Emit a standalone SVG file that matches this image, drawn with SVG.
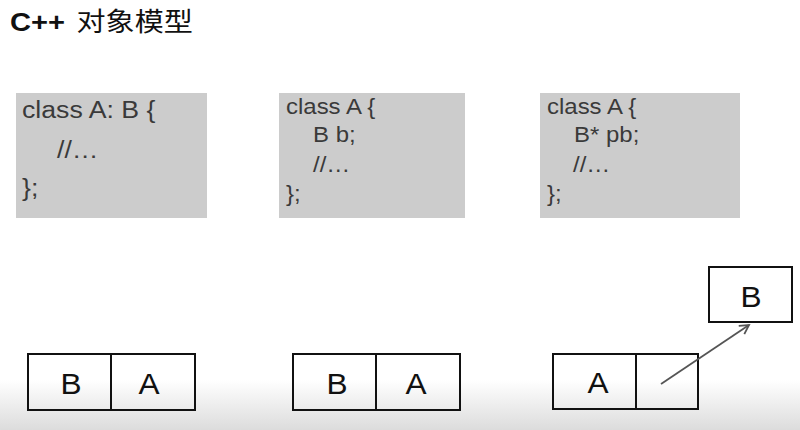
<svg xmlns="http://www.w3.org/2000/svg" width="800" height="430" viewBox="0 0 800 430">
<defs>
<linearGradient id="bg" x1="0" y1="0" x2="0" y2="1">
<stop offset="0" stop-color="#ffffff"/>
<stop offset="1" stop-color="#dcdcdc"/>
</linearGradient>
<marker id="arr" markerWidth="12" markerHeight="12" refX="10" refY="6" orient="auto" markerUnits="userSpaceOnUse">
<path d="M1,1 L10,6 L1,11" fill="none" stroke="#555" stroke-width="1.8"/>
</marker>
<style>
.code{fill:#cccccc}
.ct{font-family:"Liberation Sans",Arial,sans-serif;font-size:22px;fill:#3a3a3a}
.ct1{font-size:24.5px}
.cell{fill:none;stroke:#111;stroke-width:2}
.lbl{font-family:"Liberation Sans",Arial,sans-serif;font-size:29px;fill:#111;text-anchor:middle}
</style>
</defs>
<rect width="800" height="430" fill="#fff"/>
<rect y="380" width="800" height="50" fill="url(#bg)"/>
<text transform="translate(10,31) scale(1.12,1)" font-family="'Liberation Sans','Noto Sans CJK SC',sans-serif" font-size="26" fill="#111"><tspan font-weight="bold">C++</tspan><tspan dx="3"> 对象模型</tspan></text>

<g id="code1">
<rect class="code" x="16" y="93" width="191" height="125"/>
<text class="ct ct1" transform="translate(22,118) scale(1.09,1)">class A: B {</text>
<text class="ct ct1" transform="translate(57,158) scale(1.09,1)">//…</text>
<text class="ct ct1" transform="translate(22,196) scale(1.09,1)">};</text>
</g>
<g id="code2">
<rect class="code" x="279" y="93" width="186" height="125"/>
<text class="ct" transform="translate(286,114) scale(1.09,1)">class A {</text>
<text class="ct" transform="translate(313,142) scale(1.09,1)">B b;</text>
<text class="ct" transform="translate(313,172) scale(1.09,1)">//…</text>
<text class="ct" transform="translate(286,201) scale(1.09,1)">};</text>
</g>
<g id="code3">
<rect class="code" x="540" y="93" width="200" height="125"/>
<text class="ct" transform="translate(547,114) scale(1.09,1)">class A {</text>
<text class="ct" transform="translate(574,142) scale(1.09,1)">B* pb;</text>
<text class="ct" transform="translate(573,172) scale(1.09,1)">//…</text>
<text class="ct" transform="translate(547,201) scale(1.09,1)">};</text>
</g>

<g id="layout1">
<rect class="cell" x="28" y="354" width="83" height="56"/>
<rect class="cell" x="111" y="354" width="84" height="56"/>
<text class="lbl" transform="translate(71,394) scale(1.09,1)">B</text>
<text class="lbl" transform="translate(149,394) scale(1.09,1)">A</text>
</g>
<g id="layout2">
<rect class="cell" x="293" y="354" width="83" height="56"/>
<rect class="cell" x="376" y="354" width="84" height="56"/>
<text class="lbl" transform="translate(337,394) scale(1.09,1)">B</text>
<text class="lbl" transform="translate(416,394) scale(1.09,1)">A</text>
</g>
<g id="layout3">
<rect class="cell" x="553" y="354" width="83" height="55"/>
<rect class="cell" x="636" y="354" width="62" height="55"/>
<text class="lbl" transform="translate(598,393) scale(1.09,1)">A</text>
</g>
<g id="nodeB">
<rect class="cell" x="709" y="267" width="83" height="55"/>
<text class="lbl" transform="translate(751,307) scale(1.09,1)">B</text>
</g>
<g id="connectors">
<line x1="661" y1="384" x2="749" y2="325" stroke="#555" stroke-width="1.8" marker-end="url(#arr)"/>
</g>
</svg>
